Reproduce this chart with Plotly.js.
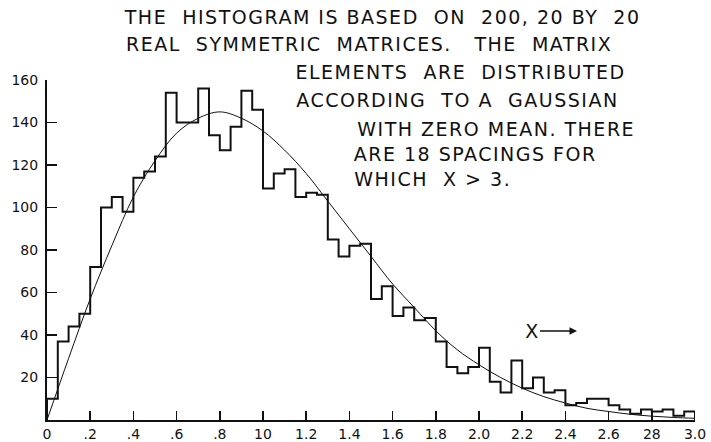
<!DOCTYPE html>
<html>
<head>
<meta charset="utf-8">
<script src="https://cdn.plot.ly/plotly-3.0.1.min.js"></script>
<style>
  html, body { margin: 0; padding: 0; background: #fff; }
  #chart { width: 711px; height: 442px; }
  #chart .annotation-text { letter-spacing: 1.5px; }
</style>
</head>
<body>
<div id="chart"></div>
<script>
// ---- data ----
const binStart = 0;
const binWidth = 0.05;
// counts per 0.05-wide bin, from 0 to 3.0
const counts = [
  10, 37, 44, 50, 72, 100, 105, 98, 114, 117,
  124, 154, 140, 140, 156, 134, 127, 138, 155, 146,
  109, 116, 118, 105, 107, 106, 85, 77, 82, 83,
  57, 63, 49, 53, 47, 48, 37, 25, 22, 25,
  34, 18, 13, 28, 15, 20, 13, 14, 7, 8,
  10, 10, 7, 5, 3, 5, 4, 5, 2, 4
];
// smooth theoretical curve
const curveX = [0, 0.1, 0.2, 0.3, 0.4, 0.5, 0.6, 0.7, 0.8, 0.9, 1.0, 1.1, 1.2, 1.3, 1.4, 1.5,
                1.6, 1.7, 1.8, 1.9, 2.0, 2.1, 2.2, 2.3, 2.4, 2.5, 2.6, 2.7, 2.8, 2.9, 3.0];
const curveY = [0, 29, 57, 82, 105, 122, 135, 142, 145, 142, 136, 127, 116, 103, 90, 77,
                64, 53, 42, 33, 26, 20, 15, 11, 8, 5.5, 4, 2.7, 1.8, 1.2, 0.8];
const xTickVals = [0, 0.2, 0.4, 0.6, 0.8, 1.0, 1.2, 1.4, 1.6, 1.8, 2.0, 2.2, 2.4, 2.6, 2.8, 3.0];
const xTickText = ['0', '.2', '.4', '.6', '.8', '10', '1.2', '1.4', '1.6', '1.8', '2.0', '2.2', '2.4', '2.6', '28', '3.0'];
const yTickVals = [20, 40, 60, 80, 100, 120, 140, 160];
const yTickText = ['20', '40', '60', '80', '100', '120', '140', '160'];
const noteLines = [
  'THE  HISTOGRAM IS BASED  ON  200, 20 BY  20',
  'REAL  SYMMETRIC  MATRICES.   THE  MATRIX',
  'ELEMENTS  ARE  DISTRIBUTED',
  'ACCORDING  TO A  GAUSSIAN',
  'WITH ZERO MEAN. THERE',
  'ARE 18 SPACINGS FOR',
  'WHICH  X > 3.'
];

// ---- build step outline ----
const histX = [binStart, binStart];
const histY = [0, counts[0]];
for (let i = 1; i < counts.length; i++) {
  histX.push(binStart + i * binWidth);
  histY.push(counts[i]);
}
const xEnd = binStart + counts.length * binWidth;
histX.push(xEnd, xEnd);
histY.push(counts[counts.length - 1], 0);

// ---- layout helpers (pixel -> paper) ----
const W = 711, H = 442;
const M = { l: 47, r: 16, t: 80, b: 22 };
const PW = W - M.l - M.r, PH = H - M.t - M.b;
const px = x => (x - M.l) / PW;
const py = y => (H - M.b - y) / PH;

const FONT = 'DejaVu Sans, Liberation Sans, sans-serif';
// centre of each text line, in pixels
const notePos = [
  [381.5, 17], [369, 44], [461, 72], [457.5, 100], [496, 129], [474.5, 154], [432, 179]
];
const annotations = noteLines.map((t, i) => ({
  text: t, xref: 'paper', yref: 'paper',
  x: px(notePos[i][0]), y: py(notePos[i][1]),
  xanchor: 'center', yanchor: 'middle', showarrow: false,
  font: { family: FONT, size: 19, color: '#111' }
}));
annotations.push({
  text: 'X', xref: 'paper', yref: 'paper',
  x: px(577), y: py(331), ax: -45, ay: 0,
  showarrow: true, arrowhead: 2, arrowsize: 1, arrowwidth: 1.5, arrowcolor: '#111',
  font: { family: FONT, size: 19, color: '#111' }
});

const traces = [
  {
    x: histX, y: histY, mode: 'lines', type: 'scatter',
    line: { shape: 'hv', color: '#111', width: 2 },
    hoverinfo: 'skip', showlegend: false
  },
  {
    x: curveX, y: curveY, mode: 'lines', type: 'scatter',
    line: { shape: 'spline', smoothing: 1, color: '#111', width: 1 },
    hoverinfo: 'skip', showlegend: false
  }
];

const layout = {
  width: W, height: H,
  margin: M,
  paper_bgcolor: '#fff', plot_bgcolor: '#fff',
  showlegend: false,
  xaxis: {
    range: [0, 3.0], showgrid: false, zeroline: false,
    showline: true, linecolor: '#111', linewidth: 2,
    ticks: 'inside', ticklen: 9, tickwidth: 1.5, tickcolor: '#111',
    tickvals: xTickVals, ticktext: xTickText,
    tickfont: { family: FONT, size: 14, color: '#111' },
    ticklabelstandoff: 0
  },
  yaxis: {
    range: [0, 160], showgrid: false, zeroline: false,
    showline: true, linecolor: '#111', linewidth: 2,
    ticks: 'inside', ticklen: 10, tickwidth: 1.5, tickcolor: '#111',
    tickvals: yTickVals, ticktext: yTickText,
    tickfont: { family: FONT, size: 14, color: '#111' },
    ticklabelstandoff: 4
  },
  annotations: annotations
};

Plotly.newPlot('chart', traces, layout, { staticPlot: true, displayModeBar: false });
</script>
</body>
</html>
